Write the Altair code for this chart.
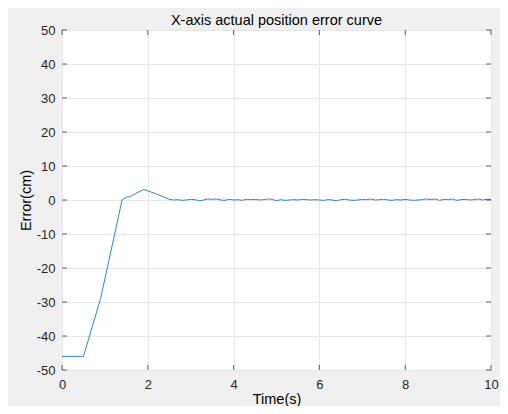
import altair as alt
import pandas as pd

time_s = [0.0, 0.5, 0.9, 1.4, 1.5, 1.6, 1.9, 2.2, 2.5,
          2.6, 2.7, 2.8, 2.9, 3.0, 3.1, 3.2, 3.3, 3.4, 3.5, 3.6, 3.7, 3.8, 3.9,
          4.0, 4.1, 4.2, 4.3, 4.4, 4.5, 4.6, 4.7, 4.8, 4.9,
          5.0, 5.1, 5.2, 5.3, 5.4, 5.5, 5.6, 5.7, 5.8, 5.9,
          6.0, 6.1, 6.2, 6.3, 6.4, 6.5, 6.6, 6.7, 6.8, 6.9,
          7.0, 7.1, 7.2, 7.3, 7.4, 7.5, 7.6, 7.7, 7.8, 7.9,
          8.0, 8.1, 8.2, 8.3, 8.4, 8.5, 8.6, 8.7, 8.8, 8.9,
          9.0, 9.1, 9.2, 9.3, 9.4, 9.5, 9.6, 9.7, 9.8, 9.9, 10.0]
error_cm = [-46.0, -46.0, -29.0, 0.0, 0.8, 1.1, 3.1, 1.8, 0.2,
            0.0, 0.1, -0.1, 0.0, 0.2, 0.1, -0.2, 0.0, 0.3, 0.2, 0.3, 0.0, -0.1, 0.2,
            0.0, 0.1, -0.1, 0.2, 0.1, 0.2, 0.0, 0.1, 0.3, 0.2,
            -0.2, 0.1, -0.1, 0.0, 0.1, 0.0, 0.2, 0.1, 0.0, 0.1,
            0.0, -0.1, 0.1, 0.0, -0.2, 0.1, 0.2, 0.0, -0.1, 0.0,
            0.2, 0.1, 0.3, 0.0, 0.1, 0.2, 0.0, -0.1, 0.1, 0.0,
            0.2, 0.0, -0.1, 0.0, 0.1, 0.3, 0.1, 0.3, -0.1, 0.2,
            0.1, 0.3, -0.1, 0.1, 0.2, 0.0, 0.1, 0.3, 0.0, 0.2, 0.1]
x_ticks = [0, 2, 4, 6, 8, 10]
y_ticks = [-50, -40, -30, -20, -10, 0, 10, 20, 30, 40, 50]

W, H = 429, 340
FONT = "Liberation Sans"
AX = "#262626"

df = pd.DataFrame({"t": time_s, "e": error_cm})
xt = pd.DataFrame({"v": x_ticks})
yt = pd.DataFrame({"v": y_ticks})

xs = alt.Scale(domain=[0, 10], nice=False, zero=False)
ys = alt.Scale(domain=[-50, 50], nice=False, zero=False)

x_axis = alt.Axis(values=x_ticks, grid=True, tickSize=0, domain=False,
                  labelPadding=8, titlePadding=1, labelOverlap=False,
                  labelFlush=False, labelExpr="datum.value + ''")
y_axis = alt.Axis(values=y_ticks, grid=True, tickSize=0, domain=False,
                  labelPadding=7, titlePadding=3, labelOverlap=False,
                  labelFlush=False, labelExpr="datum.value + ''")

line = alt.Chart(df).mark_line(color="#2f86cc", strokeWidth=1).encode(
    x=alt.X("t:Q", scale=xs, title="Time(s)", axis=x_axis),
    y=alt.Y("e:Q", scale=ys, title="Error(cm)", axis=y_axis),
)

def xtick(ypix):
    return alt.Chart(xt).mark_tick(color=AX, size=5, thickness=1).encode(
        x=alt.X("v:Q", scale=xs, title="Time(s)", axis=x_axis),
        y=alt.value(ypix))

def ytick(xpix):
    return alt.Chart(yt).mark_tick(color=AX, size=5, thickness=1).encode(
        y=alt.Y("v:Q", scale=ys, title="Error(cm)", axis=y_axis),
        x=alt.value(xpix))

chart = alt.layer(line, xtick(H - 2.5), xtick(2.5), ytick(2.5), ytick(W - 2.5)).properties(
    width=W, height=H,
    title=alt.TitleParams("X-axis actual position error curve", fontSize=14.5,
                          font=FONT, fontWeight="normal", color="#000000",
                          anchor="middle", offset=-4),
    background="#f0f0f0",
    autosize=alt.AutoSizeParams(type="none"),
    padding={"left": 54, "top": 22, "right": 9, "bottom": 36},
).configure_view(
    fill="white", stroke="#555555", strokeWidth=1
).configure_axis(
    labelFont=FONT, titleFont=FONT, labelFontSize=13, titleFontSize=14.5,
    labelColor=AX, titleColor="#000000", titleFontWeight="normal",
    gridColor="#e6e6e6", gridWidth=1,
)

chart.save("out.html", embed_options={"renderer": "svg", "actions": False})
